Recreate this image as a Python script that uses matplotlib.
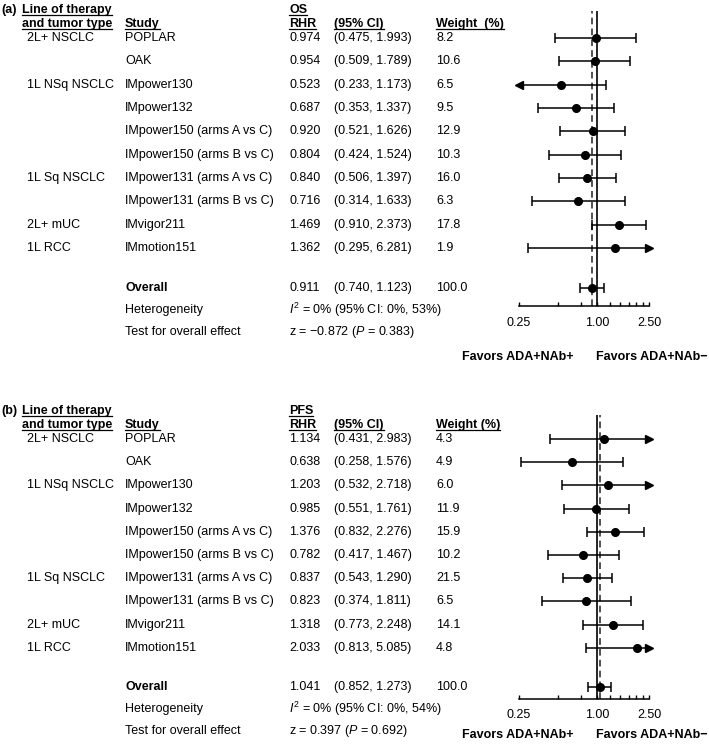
import matplotlib
matplotlib.use("Agg")
import matplotlib.pyplot as plt
from matplotlib.lines import Line2D
from matplotlib.transforms import blended_transform_factory
from matplotlib.ticker import FixedLocator, FixedFormatter

plt.rcParams["font.family"] = ["Liberation Sans", "DejaVu Sans"]
plt.rcParams["mathtext.fontset"] = "custom"
plt.rcParams["mathtext.rm"] = "Liberation Sans"
plt.rcParams["mathtext.it"] = "Liberation Sans:italic"
plt.rcParams["mathtext.bf"] = "Liberation Sans:bold"

# data
studies = ["POPLAR", "OAK", "IMpower130", "IMpower132",
           "IMpower150 (arms A vs C)", "IMpower150 (arms B vs C)",
           "IMpower131 (arms A vs C)", "IMpower131 (arms B vs C)",
           "IMvigor211", "IMmotion151"]
groups = {0: "2L+ NSCLC", 2: "1L NSq NSCLC", 6: "1L Sq NSCLC",
          8: "2L+ mUC", 9: "1L RCC"}

os_rhr = [0.974, 0.954, 0.523, 0.687, 0.920, 0.804, 0.840, 0.716, 1.469, 1.362]
os_lo = [0.475, 0.509, 0.233, 0.353, 0.521, 0.424, 0.506, 0.314, 0.910, 0.295]
os_hi = [1.993, 1.789, 1.173, 1.337, 1.626, 1.524, 1.397, 1.633, 2.373, 6.281]
os_w = [8.2, 10.6, 6.5, 9.5, 12.9, 10.3, 16.0, 6.3, 17.8, 1.9]
os_overall = (0.911, 0.740, 1.123, 100.0)
os_het = (0, 0, 53)
os_test = (-0.872, 0.383)

pfs_rhr = [1.134, 0.638, 1.203, 0.985, 1.376, 0.782, 0.837, 0.823, 1.318, 2.033]
pfs_lo = [0.431, 0.258, 0.532, 0.551, 0.832, 0.417, 0.543, 0.374, 0.773, 0.813]
pfs_hi = [2.983, 1.576, 2.718, 1.761, 2.276, 1.467, 1.290, 1.811, 2.248, 5.085]
pfs_w = [4.3, 4.9, 6.0, 11.9, 15.9, 10.2, 21.5, 6.5, 14.1, 4.8]
pfs_overall = (1.041, 0.852, 1.273, 100.0)
pfs_het = (0, 0, 54)
pfs_test = (0.397, 0.692)

xmin, xmax = 0.25, 2.5
tick_vals = [0.25, 0.5, 0.75, 1.0, 1.25, 1.5, 1.75, 2.0, 2.25, 2.5]
tick_labs = ["0.25", "", "", "1.00", "", "", "", "", "", "2.50"]

W, H = 709, 746
fig = plt.figure(figsize=(W / 100, H / 100), dpi=100)
FS = 9
underlines = []


def fx(px):
    return px / W


def panel(tag, endpoint, rhr, lo, hi, wt, overall, het, test,
          y0, dy, axis_px, top_px, weight_hdr, fav_px, pad):
    ax = fig.add_axes([fx(519), 1 - axis_px / H, fx(649 - 519),
                       (axis_px - top_px) / H])
    ax.set_xscale("log")
    ax.set_xlim(xmin, xmax)
    ax.set_ylim((axis_px - y0) / dy, (top_px - y0) / dy)
    for s in ["top", "left", "right"]:
        ax.spines[s].set_visible(False)
    ax.spines["bottom"].set_linewidth(1.1)
    ax.xaxis.set_major_locator(FixedLocator(tick_vals))
    ax.xaxis.set_major_formatter(FixedFormatter(tick_labs))
    ax.xaxis.set_minor_locator(FixedLocator([]))
    ax.tick_params(axis="x", direction="in", length=3, width=1, pad=pad,
                   labelsize=FS)
    ax.set_yticks([])

    ax.axvline(1.0, color="black", lw=1.2)
    ax.axvline(overall[0], color="#333333", lw=1.2, ls=(0, (4, 2.5)))

    n = len(rhr)
    ov_y = 10.71
    ys = list(range(n)) + [ov_y]
    ests = list(rhr) + [overall[0]]
    los = list(lo) + [overall[1]]
    his = list(hi) + [overall[2]]
    for y, e, l, h in zip(ys, ests, los, his):
        ax.hlines(y, max(l, xmin), min(h, xmax), color="black", lw=1.1)
        if l >= xmin:
            ax.plot(l, y, marker="|", ms=7, mew=1.1, color="black")
        else:
            ax.plot(xmin, y, marker="<", ms=5.5, color="black", clip_on=False)
        if h <= xmax:
            ax.plot(h, y, marker="|", ms=7, mew=1.1, color="black")
        else:
            ax.plot(xmax, y, marker=">", ms=5.5, color="black", clip_on=False)
        ax.plot(e, y, marker="o", ms=5.5, color="black", zorder=5)

    tr = blended_transform_factory(fig.transFigure, ax.transData)
    h1, h2 = -1.29 + 0.2, -0.69 + 0.2
    ax.text(fx(1), h1, tag, transform=tr, fontsize=FS, fontweight="bold",
            va="baseline")
    hdrs = [(22, h1, "Line of therapy"), (22, h2, "and tumor type"),
            (125, h2, "Study"), (289, h1, endpoint), (289, h2, "RHR"),
            (334, h2, "(95% CI)"), (436, h2, weight_hdr)]
    for px, y, s in hdrs:
        t = ax.text(fx(px), y, s, transform=tr, fontsize=FS,
                    fontweight="bold", va="baseline")
        underlines.append(t)

    for i in range(n):
        if i in groups:
            ax.text(fx(27), i, groups[i], transform=tr, fontsize=FS, va="center")
        ax.text(fx(125), i, studies[i], transform=tr, fontsize=FS, va="center")
        ax.text(fx(289), i, f"{rhr[i]:.3f}", transform=tr, fontsize=FS,
                va="center")
        ax.text(fx(334), i, f"({lo[i]:.3f}, {hi[i]:.3f})", transform=tr,
                fontsize=FS, va="center")
        ax.text(fx(436), i, f"{wt[i]:.1f}", transform=tr, fontsize=FS,
                va="center")

    ax.text(fx(125), ov_y, "Overall", transform=tr, fontsize=FS,
            fontweight="bold", va="center")
    ax.text(fx(289), ov_y, f"{overall[0]:.3f}", transform=tr, fontsize=FS,
            va="center")
    ax.text(fx(334), ov_y, f"({overall[1]:.3f}, {overall[2]:.3f})",
            transform=tr, fontsize=FS, va="center")
    ax.text(fx(436), ov_y, f"{overall[3]:.1f}", transform=tr, fontsize=FS,
            va="center")

    y_het = ov_y + 0.94
    y_test = ov_y + 1.88
    ax.text(fx(125), y_het, "Heterogeneity", transform=tr, fontsize=FS,
            va="center")
    ax.text(fx(289), y_het,
            f"$I^2$ = {het[0]}% (95% CI: {het[1]}%, {het[2]}%)",
            transform=tr, fontsize=FS, va="center")
    ax.text(fx(125), y_test, "Test for overall effect", transform=tr,
            fontsize=FS, va="center")
    zs = f"{test[0]:.3f}".replace("-", "\u2212")
    ax.text(fx(289), y_test, f"z = {zs} ($P$ = {test[1]:.3f})",
            transform=tr, fontsize=FS, va="center")

    fy = (fav_px - y0) / dy
    ax.text(fx(573), fy, "Favors ADA+NAb+", transform=tr, fontsize=FS,
            fontweight="bold", ha="right", va="center")
    ax.text(fx(596), fy, "Favors ADA+NAb\u2212", transform=tr, fontsize=FS,
            fontweight="bold", ha="left", va="center")
    return ax


panel("(a)", "OS", os_rhr, os_lo, os_hi, os_w, os_overall, os_het, os_test,
      y0=38, dy=23.33, axis_px=306, top_px=11, weight_hdr="Weight  (%)",
      fav_px=357, pad=8)
panel("(b)", "PFS", pfs_rhr, pfs_lo, pfs_hi, pfs_w, pfs_overall, pfs_het,
      pfs_test, y0=439, dy=23.2, axis_px=699, top_px=415,
      weight_hdr="Weight (%)", fav_px=735, pad=7)

# underline the bold headers
fig.canvas.draw()
r = fig.canvas.get_renderer()
for t in underlines:
    bb = t.get_window_extent(renderer=r)
    base = t.get_transform().transform(t.get_position())[1]
    yline = (base - 2) / fig.bbox.height
    fig.add_artist(Line2D([bb.x0 / fig.bbox.width, bb.x1 / fig.bbox.width],
                          [yline, yline], color="black", lw=0.9))

fig.savefig("out.png", dpi=100)
